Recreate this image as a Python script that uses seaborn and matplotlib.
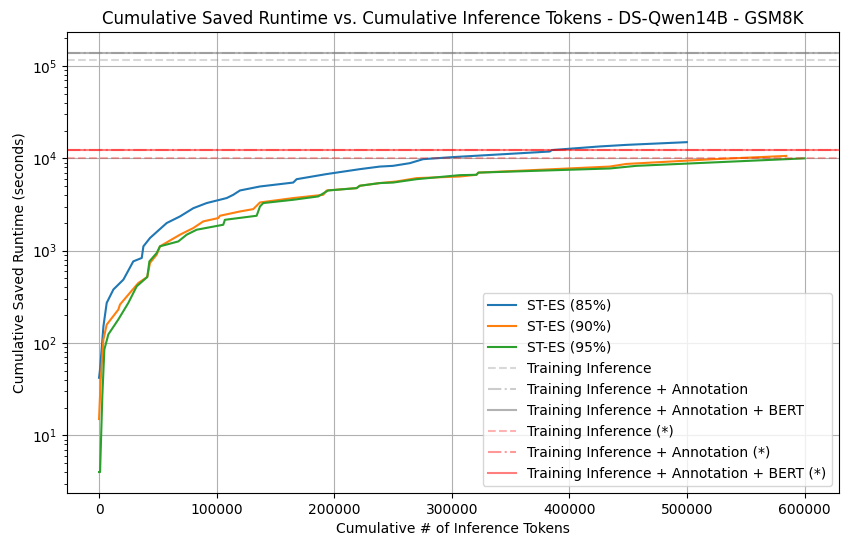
import matplotlib
matplotlib.use("Agg")
import matplotlib.pyplot as plt
import seaborn as sns
import pandas as pd
from matplotlib.lines import Line2D

# ---- data ----
tokens_85 = [0, 850, 3700, 6500, 12200, 20700, 29100, 36300, 37700, 43300, 57500, 68800,
             80100, 91500, 108500, 114100, 119800, 136800, 165100, 168000, 193500, 221700,
             238700, 250000, 264200, 275500, 299700, 383200, 385000, 425700, 448300, 499800]
runtime_85 = [42, 52, 151, 272, 380, 486, 766, 834, 1114, 1372, 1993, 2350,
              2884, 3280, 3716, 4030, 4490, 4960, 5470, 5950, 6760, 7640,
              8150, 8300, 8870, 9800, 10300, 11860, 12300, 13460, 14000, 14980]

tokens_90 = [0, 1400, 3700, 6500, 16400, 17800, 24900, 33400, 41000, 43300, 49000, 51800,
             68800, 80100, 88600, 101400, 102800, 119800, 131100, 136800, 165100, 190600,
             193500, 219000, 221700, 238700, 252900, 270000, 306700, 320900, 322500, 434200,
             448300, 521900, 584300]
runtime_90 = [15, 40, 109, 158, 230, 261, 334, 447, 519, 736, 906, 1115,
              1490, 1758, 2076, 2256, 2390, 2660, 2820, 3330, 3716, 4030,
              4490, 4760, 5050, 5400, 5620, 6110, 6360, 6640, 7010, 8150,
              8700, 9790, 10630]

tokens_95 = [0, 850, 2800, 4500, 7900, 16400, 24900, 32000, 41000, 42800, 49000, 51800,
             67400, 74500, 83000, 105600, 107000, 134000, 136800, 139600, 165100, 186300,
             194800, 219000, 221700, 238700, 250000, 270000, 306700, 320900, 322500, 434200,
             456800, 538900, 599800]
runtime_95 = [4, 4, 27, 85, 124, 180, 272, 411, 519, 766, 944, 1115,
              1260, 1490, 1687, 1910, 2160, 2390, 3010, 3280, 3560, 3870,
              4490, 4760, 5050, 5400, 5470, 5950, 6580, 6640, 7010, 7770,
              8300, 9240, 10000]

series_names = ["ST-ES (85%)", "ST-ES (90%)", "ST-ES (95%)"]

ref_labels = ["Training Inference", "Training Inference + Annotation",
              "Training Inference + Annotation + BERT"]
ref_values = [116000, 139000, 139000]
ref_values_star = [10100, 12300, 12300]

# ---- build long-form table ----
frames = []
for name, xs, ys in zip(series_names, [tokens_85, tokens_90, tokens_95],
                        [runtime_85, runtime_90, runtime_95]):
    frames.append(pd.DataFrame({"tokens": xs, "runtime": ys, "series": name}))
df = pd.concat(frames, ignore_index=True)

fig = plt.figure(figsize=(8.49, 5.47), dpi=100)
ax = fig.add_axes([0.079, 0.0987, 0.909, 0.843])

palette = {"ST-ES (85%)": "#1f77b4", "ST-ES (90%)": "#ff7f0e", "ST-ES (95%)": "#2ca02c"}
sns.lineplot(data=df, x="tokens", y="runtime", hue="series", palette=palette,
             sort=False, estimator=None, ax=ax, linewidth=1.5, legend=False)

styles = ["--", "-.", "-"]
gray_alphas = [0.3, 0.4, 0.6]
red_alphas = [0.3, 0.4, 0.5]
for val, ls, a in zip(ref_values, styles, gray_alphas):
    ax.axhline(val, color="gray", linestyle=ls, alpha=a, linewidth=1.5)
for val, ls, a in zip(ref_values_star, styles, red_alphas):
    ax.axhline(val, color="red", linestyle=ls, alpha=a, linewidth=1.5)

ax.set_yscale("log")
ax.set_xlim(-27200, 629000)
ax.grid(True)

# legend
handles = [Line2D([], [], color=palette[n], linewidth=1.5) for n in series_names]
labels = list(series_names)
for lab, ls, a in zip(ref_labels, styles, gray_alphas):
    handles.append(Line2D([], [], color="gray", linestyle=ls, alpha=a, linewidth=1.5))
    labels.append(lab)
for lab, ls, a in zip(ref_labels, styles, red_alphas):
    handles.append(Line2D([], [], color="red", linestyle=ls, alpha=a, linewidth=1.5))
    labels.append(lab + " (*)")
ax.legend(handles, labels, loc="lower right")

ax.set_xlabel("Cumulative # of Inference Tokens")
ax.set_ylabel("Cumulative Saved Runtime (seconds)")
ax.set_title("Cumulative Saved Runtime vs. Cumulative Inference Tokens - DS-Qwen14B - GSM8K")

fig.savefig("out.png", dpi=100)
